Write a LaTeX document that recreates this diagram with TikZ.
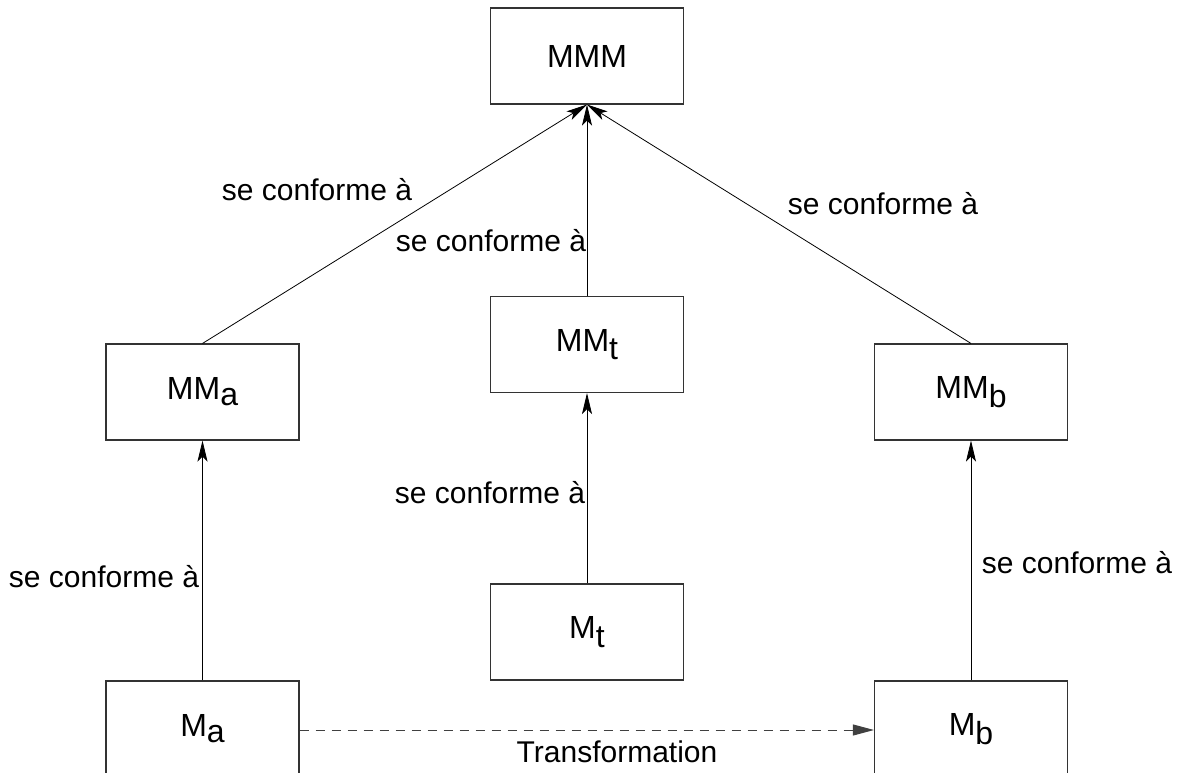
\documentclass[tikz,border=0pt]{standalone}
\usepackage{fontspec}
\setmainfont{Liberation Sans}
\usetikzlibrary{arrows.meta}
\begin{document}
\begin{tikzpicture}[x=1pt,y=-1pt,
  box/.style={draw=black!80, line width=1.1pt, minimum width=193pt, minimum height=96pt, inner sep=0pt, font=\fontsize{32}{36}\selectfont},
  lbl/.style={inner sep=0pt, font=\fontsize{30}{34}\selectfont},
  conf/.style={draw=black, line width=0.8pt, -{Stealth[length=21pt,width=10pt,inset=5pt]}},
  trans/.style={draw=black!75, line width=1pt, dash pattern=on 9pt off 7pt, -{Triangle[length=21pt,width=11pt]}}]
\useasboundingbox (0,0) rectangle (1184,773);
\clip (0,0) rectangle (1184,773);
\node[box] (MMM) at (587,56) {MMM};
\node[box] (MMt) at (587,344.5) {MM\raisebox{-8pt}{t}};
\node[box] (MMa) at (202.5,392) {MM\raisebox{-6pt}{a}};
\node[box] (MMb) at (971,392) {MM\raisebox{-9pt}{b}};
\node[box] (Mt) at (587,632) {M\raisebox{-9pt}{t}};
\node[box] (Ma) at (202.5,729) {M\raisebox{-6pt}{a}};
\node[box] (Mb) at (971,729) {M\raisebox{-9pt}{b}};
\draw[conf] (MMa.north) -- (MMM.south);
\draw[conf] (MMt.north) -- (MMM.south);
\draw[conf] (MMb.north) -- (MMM.south);
\draw[conf] (Mt.north) -- (MMt.south);
\draw[conf] (Ma.north) -- (MMa.south);
\draw[conf] (Mb.north) -- (MMb.south);
\draw[trans] (Ma.east |- 0,730) -- (Mb.west |- 0,730);
\node[lbl] (l1) at (317,190) {se conforme à};
\node[lbl] (l2) at (491,241) {se conforme à};
\node[lbl] (l3) at (883,204) {se conforme à};
\node[lbl] (l4) at (490,493) {se conforme à};
\node[lbl] (l5) at (104,577) {se conforme à};
\node[lbl] (l6) at (1077,563) {se conforme à};
\node[lbl] (l7) at (617,752) {Transformation};
\end{tikzpicture}
\end{document}
